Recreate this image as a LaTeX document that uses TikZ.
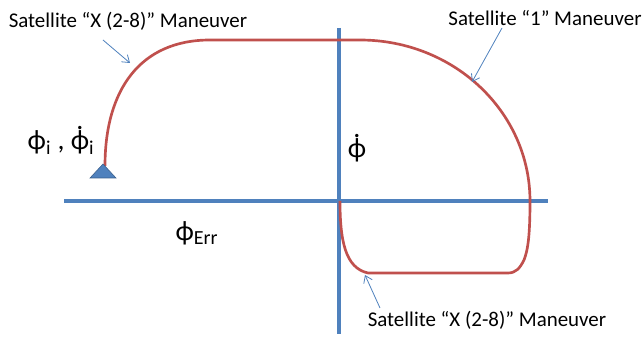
\documentclass[tikz,border=0pt]{standalone}
\usepackage{fontspec}
\setmainfont{Carlito}
\usetikzlibrary{arrows.meta,positioning,calc}

\definecolor{axisblue}{RGB}{79,129,189}
\definecolor{pathred}{RGB}{192,80,77}
\definecolor{tridark}{RGB}{56,93,138}

\newcommand{\phidot}{\leavevmode\vbox{\offinterlineskip\halign{\hfil##\hfil\cr
  .\cr\noalign{\kern0.06em}ϕ\cr}}}

\tikzset{
  axisline/.style={axisblue, line width=2.4pt},
  trackline/.style={pathred, line width=2pt, line join=round},
  pointer/.style={axisblue, line width=0.6pt, -{Straight Barb[length=5pt,width=7pt]}},
  satlabel/.style={font=\fontsize{15.7}{18}\selectfont, inner sep=1pt},
  philabel/.style={font=\fontsize{21}{24}\selectfont, inner sep=1pt}
}

\begin{document}
\begin{tikzpicture}[x=0.75pt, y=-0.75pt]
\useasboundingbox (0,0) rectangle (644,341);

% axes
\draw[axisline] (64,201) -- (548,201);
\draw[axisline] (339,28) -- (339,334);

% trajectory
\draw[trackline] (105,166) .. controls (105,90) and (140,40) .. (210,40)
  -- (360,40) .. controls (454,40) and (530,112) .. (530,201)
  .. controls (530,235) and (528,250) .. (524,260)
  .. controls (520,268) and (516,273) .. (508,273)
  -- (368,273) .. controls (345,268) and (340,240) .. (340,201);

% start marker
\fill[axisblue, draw=tridark, line width=0.4pt] (103,164) -- (116,178) -- (90,178) -- cycle;

% labels
\node[satlabel] (lblx) at (128,21) {Satellite “X (2-8)” Maneuver};
\node[satlabel] (lblone) at (545,18) {Satellite “1” Maneuver};
\node[satlabel] (lblxb) at (487,320) {Satellite “X (2-8)” Maneuver};

\coordinate (tailx) at (103,40);
\coordinate (tipx) at (130,63);
\coordinate (tailone) at (502,28);
\coordinate (tipone) at (472,82);
\coordinate (tailxb) at (380,308);
\coordinate (tipxb) at (365,275);
\draw[pointer] (tailx) -- (tipx);
\draw[pointer] (tailone) -- (tipone);
\draw[pointer] (tailxb) -- (tipxb);

\node[philabel, anchor=base] (rate) at (357,158) {\phidot};
\node[philabel] (err) at (197,233) {ϕ\textsubscript{\fontsize{15}{17}\selectfont Err}};
\node[philabel, anchor=base] (init) at (61,150) {ϕ\textsubscript{i} , \phidot\textsubscript{i}};
\end{tikzpicture}
\end{document}
